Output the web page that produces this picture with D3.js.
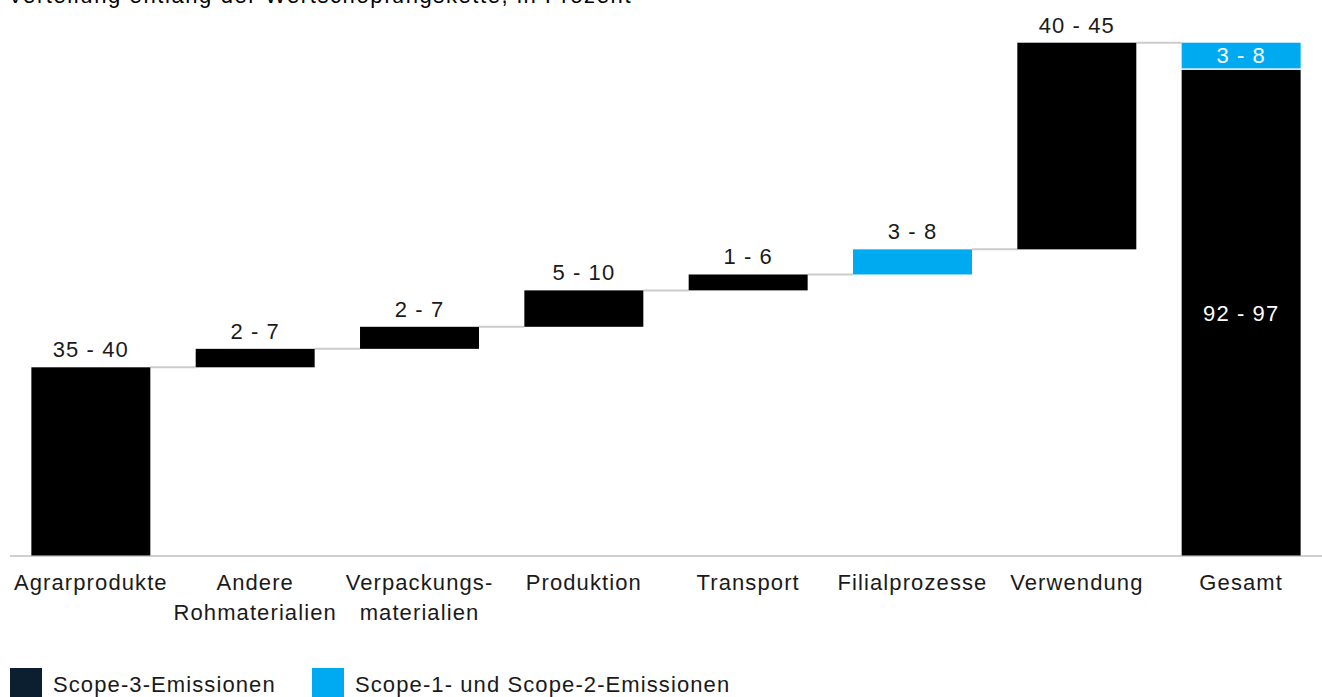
<!DOCTYPE html>
<html><head><meta charset="utf-8">
<script src="https://cdn.jsdelivr.net/npm/d3@7"></script>
<style>body{margin:0;background:#fff;overflow:hidden}svg{display:block;font-family:"Liberation Sans",Arial,sans-serif;letter-spacing:1.1px}</style>
</head><body>
<svg id="c" width="1322" height="697"></svg>
<script>
const title = "Verteilung entlang der Wertschöpfungskette, in Prozent";
const categories = [["Agrarprodukte"],["Andere","Rohmaterialien"],["Verpackungs-","materialien"],["Produktion"],["Transport"],["Filialprozesse"],["Verwendung"],["Gesamt"]];
const steps = [36.7, 3.6, 4.3, 7.1, 3.1, 4.9, 40.3];
const stepLabels = ["35 - 40","2 - 7","2 - 7","5 - 10","1 - 6","3 - 8","40 - 45"];
const stepScope = ["s3","s3","s3","s3","s3","s12","s3"];
const totalScope3 = 94.7, totalScope12 = 5.3;
const totalLabels = ["92 - 97","3 - 8"];
const legendItems = [["s3","Scope-3-Emissionen"],["s12","Scope-1- und Scope-2-Emissionen"]];

const barColor = {s3:"#000000", s12:"#00aaf0"};
const legendColor = {s3:"#0b1f30", s12:"#00aaf0"};
const fs = 22;

const svg = d3.select("#c");
const x = d3.scaleBand().domain(d3.range(categories.length)).range([10,1322]).paddingInner(0.276).paddingOuter(0.13);
const y = d3.scaleLinear().domain([0,100]).range([555.5,42.7]);

svg.append("text").attr("x",8).attr("y",3).attr("font-size",fs).attr("letter-spacing",1.6).attr("fill","#000").text(title);

svg.append("line").attr("x1",10).attr("x2",1322).attr("y1",y(0)+0.5).attr("y2",y(0)+0.5).attr("stroke","#d0d0d0").attr("stroke-width",2);

let cum = 0;
const bars = steps.map((v,i)=>{const b={i,start:cum,end:cum+v,label:stepLabels[i],scope:stepScope[i]}; cum+=v; return b;});

bars.forEach((b,i)=>{
  svg.append("line").attr("x1",x(i)+x.bandwidth()).attr("x2",x(i+1))
    .attr("y1",y(b.end)).attr("y2",y(b.end)).attr("stroke","#cccccc").attr("stroke-width",2);
});

svg.selectAll("rect.step").data(bars).join("rect").attr("class","step")
  .attr("x",d=>x(d.i)).attr("width",x.bandwidth())
  .attr("y",d=>y(d.end)).attr("height",d=>y(d.start)-y(d.end))
  .attr("fill",d=>barColor[d.scope]);

svg.selectAll("text.vl").data(bars).join("text").attr("class","vl")
  .attr("x",d=>x(d.i)+x.bandwidth()/2).attr("y",d=>y(d.end)-10)
  .attr("text-anchor","middle").attr("font-size",fs).attr("fill","#1a1a1a").text(d=>d.label);

const ti = categories.length-1;
svg.append("rect").attr("x",x(ti)).attr("width",x.bandwidth())
  .attr("y",y(totalScope3)).attr("height",y(0)-y(totalScope3)).attr("fill",barColor.s3);
svg.append("rect").attr("x",x(ti)).attr("width",x.bandwidth())
  .attr("y",y(totalScope3+totalScope12)).attr("height",y(totalScope3)-y(totalScope3+totalScope12)-1.5).attr("fill",barColor.s12);
svg.append("text").attr("x",x(ti)+x.bandwidth()/2).attr("y",(y(0)+y(totalScope3))/2+8)
  .attr("text-anchor","middle").attr("font-size",fs).attr("fill","#fff").text(totalLabels[0]);
svg.append("text").attr("x",x(ti)+x.bandwidth()/2).attr("y",(y(totalScope3)+y(totalScope3+totalScope12))/2+7)
  .attr("text-anchor","middle").attr("font-size",fs).attr("fill","#fff").text(totalLabels[1]);

categories.forEach((lines,i)=>{
  const t = svg.append("text").attr("text-anchor","middle").attr("font-size",fs).attr("fill","#1a1a1a");
  lines.forEach((l,k)=>t.append("tspan").attr("x",x(i)+x.bandwidth()/2).attr("y",590+k*30).text(l));
});

const lx = [10,312];
legendItems.forEach(([k,l],i)=>{
  svg.append("rect").attr("x",lx[i]).attr("y",668).attr("width",32).attr("height",32).attr("fill",legendColor[k]);
  svg.append("text").attr("x",lx[i]+43).attr("y",692).attr("font-size",fs).attr("fill","#1a1a1a").text(l);
});
</script>
</body></html>
